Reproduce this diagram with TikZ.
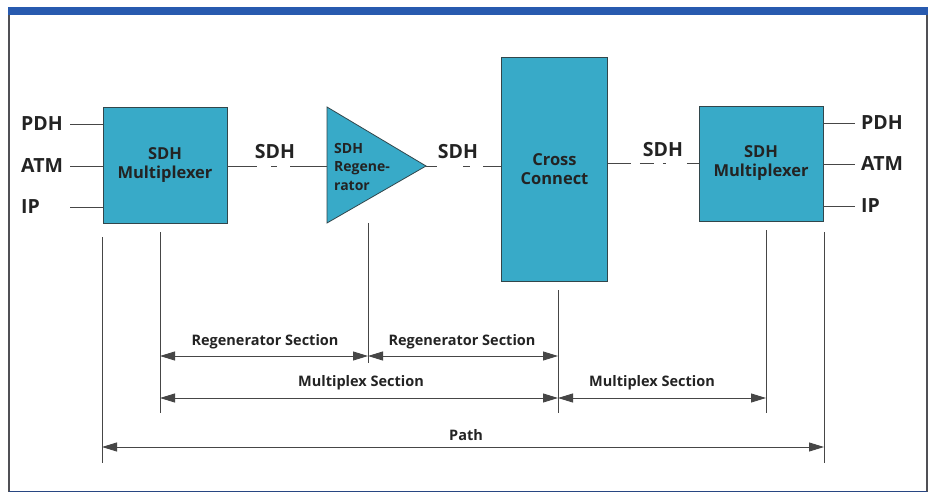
\documentclass[tikz,border=0pt]{standalone}
\usepackage{fontspec}
\setmainfont{Open Sans}
\usetikzlibrary{arrows.meta}
\definecolor{boxfill}{RGB}{56,170,200}
\definecolor{boxline}{RGB}{50,70,75}
\definecolor{ink}{RGB}{35,35,35}
\definecolor{linecol}{RGB}{70,70,70}
\definecolor{topbar}{RGB}{40,90,175}
\definecolor{framecol}{RGB}{80,80,85}
\definecolor{framebot}{RGB}{40,70,130}
\tikzset{
  unit/.style={draw=boxline, fill=boxfill, line width=0.8pt, inner sep=0pt, align=center,
    font=\fontsize{16.5}{19}\selectfont\bfseries, text=ink},
  io/.style={font=\fontsize{19.5}{22}\selectfont\bfseries, text=ink, inner sep=0pt},
  linklbl/.style={font=\fontsize{19.5}{22}\selectfont\bfseries, text=ink, inner sep=0pt},
  seclbl/.style={font=\fontsize{14.5}{16}\selectfont\bfseries, text=ink, inner sep=0pt},
  wire/.style={draw=linecol, line width=0.9pt},
  span/.style={draw=linecol, line width=0.9pt, {Triangle[length=15pt,width=9pt]}-{Triangle[length=15pt,width=9pt]}},
}
\begin{document}
\begin{tikzpicture}[x=1pt,y=-1pt]
\useasboundingbox (0,0) rectangle (933,494);
% frame
\fill[white] (0,0) rectangle (933,494);
\draw[framecol, line width=1.2pt] (9,14) -- (9,491.5) -- (927,491.5) -- (927,14);
\draw[framebot, line width=1.2pt] (9,491.5) -- (927,491.5);
\fill[topbar] (8.4,7) rectangle (927.6,15);

% units
\node[unit, minimum width=124pt, minimum height=116pt] (mux1) at (165,165) {SDH\\Multiplexer};
\node[unit, minimum width=106pt, minimum height=224pt] (cc) at (554.5,169) {Cross\\Connect};
\node[unit, minimum width=124pt, minimum height=115pt] (mux2) at (761,163.5) {SDH\\Multiplexer};
% regenerator triangle
\coordinate (regW) at (327,166);
\coordinate (regA) at (426,166);
\draw[draw=boxline, fill=boxfill, line width=0.8pt, line join=miter] (327,107) -- (regA) -- (327,223) -- cycle;
\node[anchor=west, align=left, inner sep=0pt, text=ink,
  font=\fontsize{14}{18.5}\selectfont\bfseries] (regtxt) at (334,167) {SDH\\Regene-\\rator};

% tributaries left
\node[io, anchor=west] (pdh1) at (21,124) {PDH};
\node[io, anchor=west] (atm1) at (21,166) {ATM};
\node[io, anchor=west] (ip1) at (21,207) {IP};
\coordinate (pdh1e) at (70,124);
\coordinate (atm1e) at (70,166);
\coordinate (ip1e) at (70,207);
\draw[wire] (pdh1e) -- (mux1.west |- pdh1e);
\draw[wire] (atm1e) -- (mux1.west |- atm1e);
\draw[wire] (ip1e) -- (mux1.west |- ip1e);
\node[io, anchor=west] (pdh2) at (861,123) {PDH};
\node[io, anchor=west] (atm2) at (861,164) {ATM};
\node[io, anchor=west] (ip2) at (861,206) {IP};
\coordinate (pdh2e) at (855,123);
\coordinate (atm2e) at (855,164);
\coordinate (ip2e) at (855,206);
\draw[wire] (mux2.east |- pdh2e) -- (pdh2e);
\draw[wire] (mux2.east |- atm2e) -- (atm2e);
\draw[wire] (mux2.east |- ip2e) -- (ip2e);

% SDH links
\draw[wire, dash pattern=on 30pt off 14pt on 6pt off 13pt on 40pt] (mux1.east |- regW) -- (regW);
\draw[wire, dash pattern=on 11pt off 26pt on 7pt off 13pt on 30pt] (regA) -- (cc.west |- regA);
\draw[wire, dash pattern=on 23pt off 9pt on 14pt off 9pt on 3pt off 21pt on 20pt] (cc.east |- mux2.west) -- (mux2.west);
\node[linklbl] (sdh1) at (275,152) {SDH};
\node[linklbl] (sdh2) at (458,152) {SDH};
\node[linklbl] (sdh3) at (663,150) {SDH};

% reference verticals
\coordinate (p1t) at (102,237); \coordinate (p1b) at (102,463);
\coordinate (m1t) at (160,232); \coordinate (m1b) at (160,413);
\coordinate (r1t) at (368,223); \coordinate (r1b) at (368,363);
\coordinate (c1t) at (558,290); \coordinate (c1b) at (558,413);
\coordinate (m2t) at (766,230); \coordinate (m2b) at (766,413);
\coordinate (p2t) at (824,232); \coordinate (p2b) at (824,463);
\foreach \a in {p1,m1,r1,c1,m2,p2} \draw[wire] (\a t) -- (\a b);

% spans
\coordinate (rsA) at (160,356); \coordinate (rsB) at (368,356); \coordinate (rsC) at (558,356);
\coordinate (msA) at (160,398); \coordinate (msB) at (558,398); \coordinate (msC) at (766,398);
\coordinate (ptA) at (102,447); \coordinate (ptB) at (824,447);
\draw[span] (rsA) -- (rsB);
\draw[span] (rsB) -- (rsC);
\draw[span] (msA) -- (msB);
\draw[span] (msB) -- (msC);
\draw[span] (ptA) -- (ptB);
\node[seclbl] (rl1) at (265,342) {Regenerator Section};
\node[seclbl] (rl2) at (462,342) {Regenerator Section};
\node[seclbl] (ml1) at (361,383) {Multiplex Section};
\node[seclbl] (ml2) at (652,383) {Multiplex Section};
\node[seclbl] (pl) at (466,435) {Path};
\end{tikzpicture}
\end{document}
